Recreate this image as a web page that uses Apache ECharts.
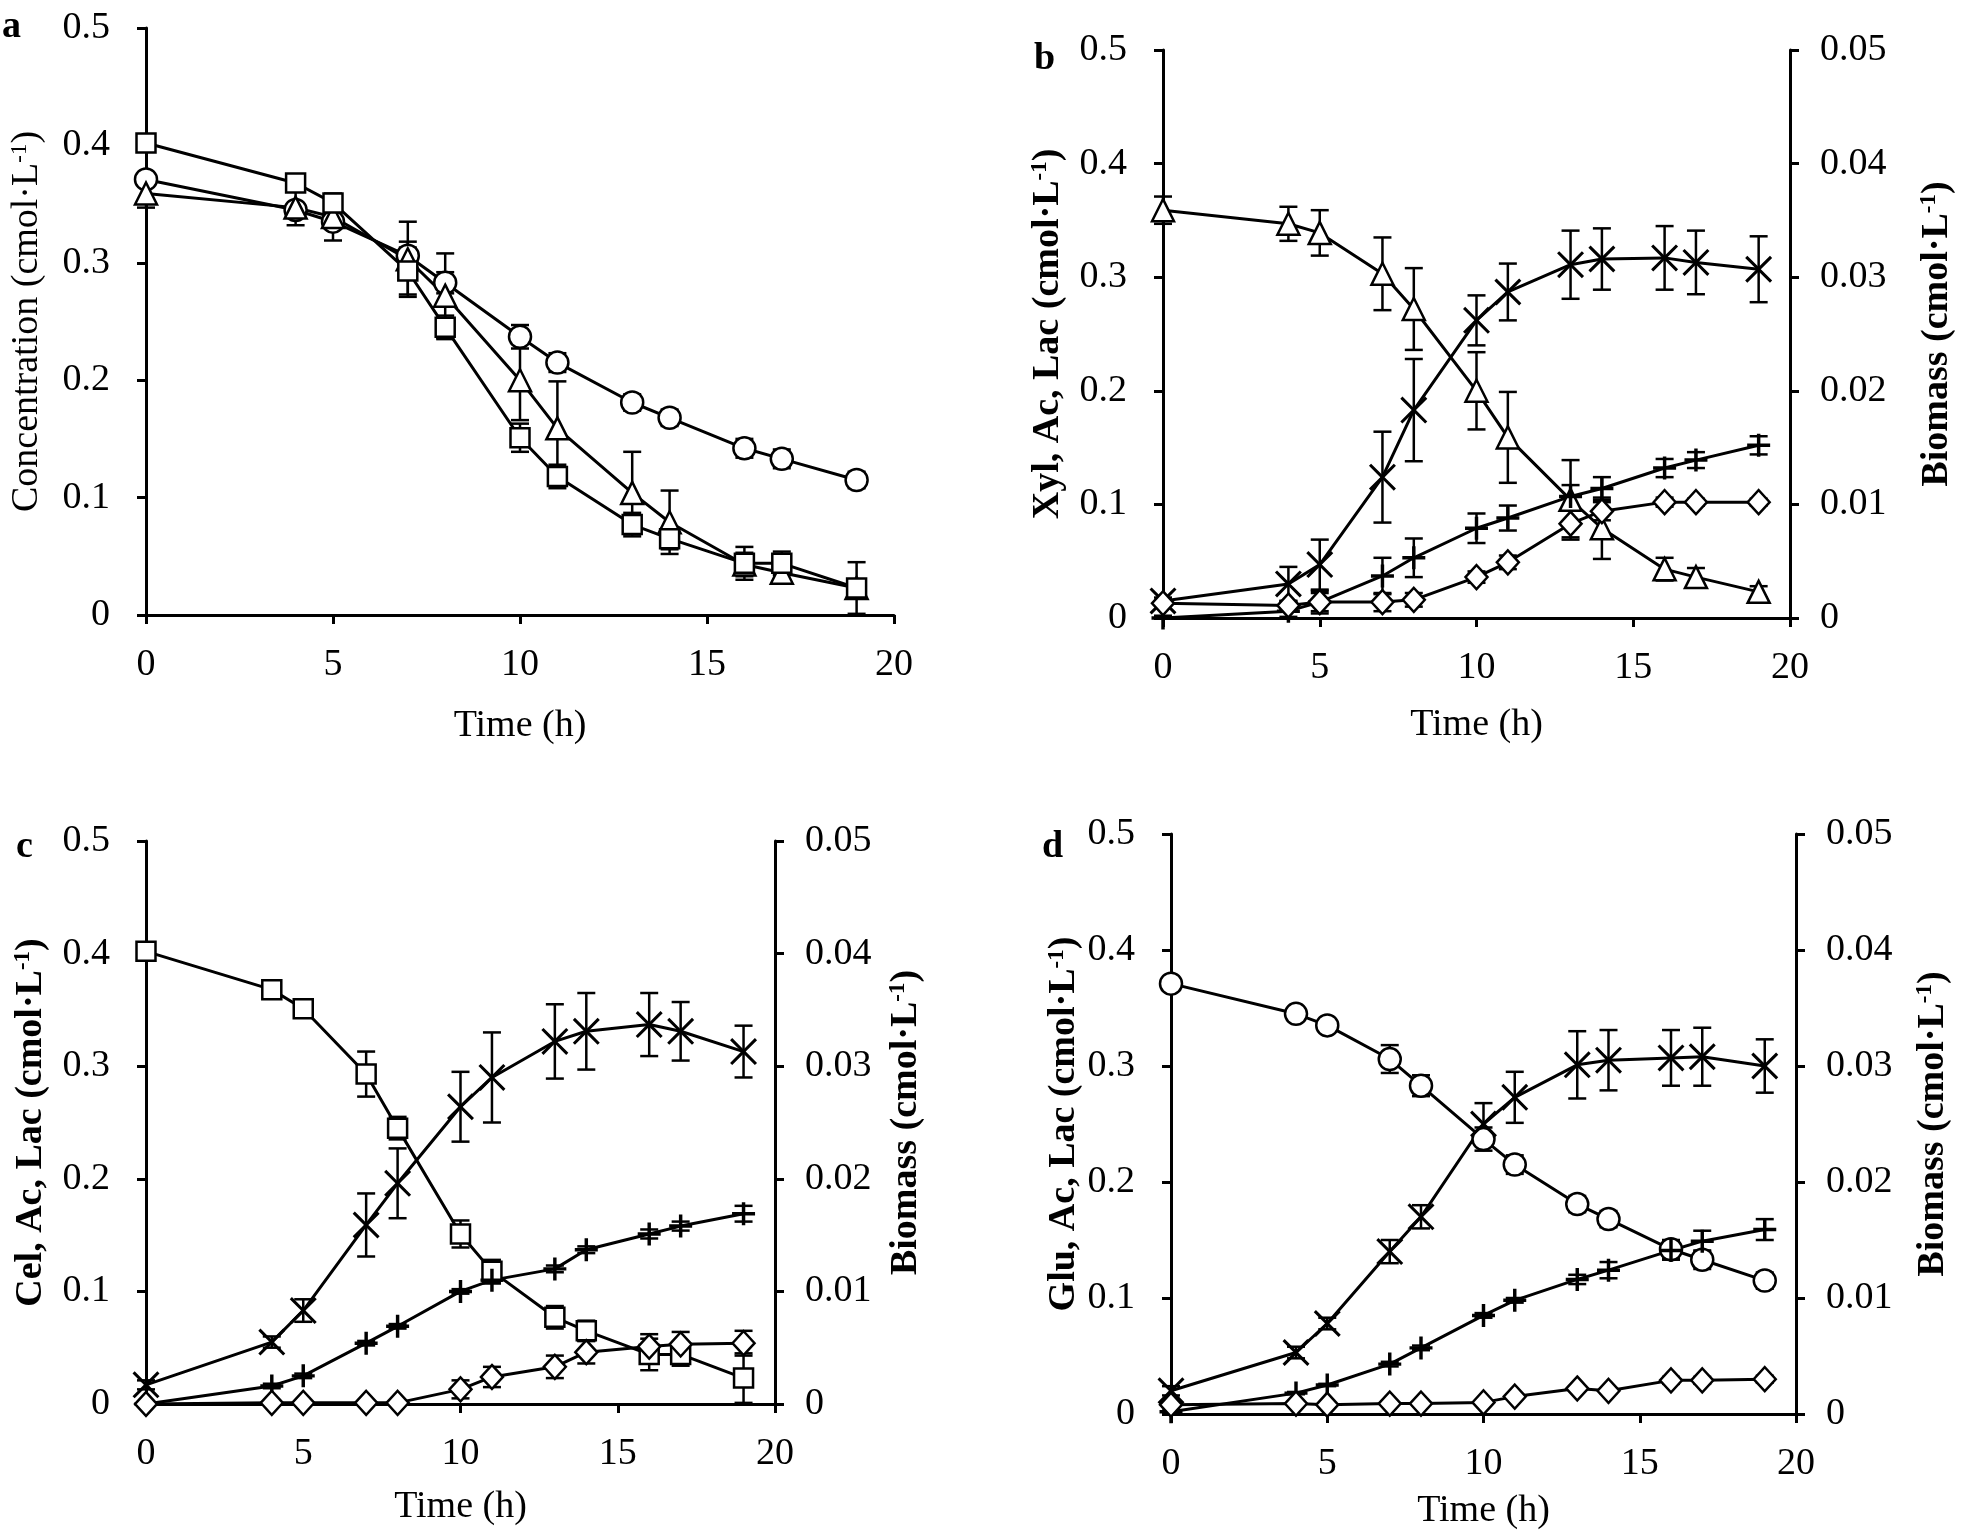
<!DOCTYPE html>
<html>
<head>
<meta charset="utf-8">
<script src="https://cdn.jsdelivr.net/npm/echarts@6/dist/echarts.min.js"></script>
<style>
  html, body { margin: 0; padding: 0; background: #fff; }
  #chart { width: 1961px; height: 1532px; }
</style>
</head>
<body>
<div id="chart"></div>
<script>
// sampling times (h)
var time = [0, 4, 5, 7, 8, 10, 11, 13, 14, 16, 17, 19];

// substrates, cmol/L (used in panel a and in b/c/d)
var xyl    = [0.359, 0.347, 0.339, 0.303, 0.272, 0.200, 0.159, 0.104, 0.079, 0.043, 0.036, 0.023];
var xylErr = [0.012, 0.015, 0.020, 0.032, 0.036, 0.034, 0.040, 0.035, 0.027, 0.010, 0.008, 0.005];
var cel    = [0.402, 0.368, 0.351, 0.293, 0.245, 0.151, 0.118, 0.077, 0.065, 0.044, 0.044, 0.023];
var celErr = [0.004, 0.004, 0.004, 0.020, 0.010, 0.012, 0.010, 0.010, 0.009, 0.014, 0.010, 0.022];
var glu    = [0.371, 0.345, 0.335, 0.306, 0.283, 0.237, 0.215, 0.181, 0.168, 0.142, 0.133, 0.115];
var gluErr = [0.003, 0.004, 0.005, 0.012, 0.009, 0.010, 0.008, 0.007, 0.007, 0.008, 0.008, 0.007];

// panel b (xylose)
var bioB    = [0.0015, 0.0030, 0.0047, 0.0124, 0.0183, 0.0262, 0.0287, 0.0311, 0.0316, 0.0317, 0.0313, 0.0307];
var bioBErr = [0.0003, 0.0015, 0.0022, 0.0040, 0.0045, 0.0022, 0.0025, 0.0030, 0.0027, 0.0028, 0.0028, 0.0029];
var acB     = [0.000, 0.006, 0.014, 0.037, 0.053, 0.079, 0.088, 0.107, 0.114, 0.132, 0.139, 0.152];
var acBErr  = [0.002, 0.005, 0.008, 0.016, 0.017, 0.013, 0.011, 0.010, 0.010, 0.008, 0.007, 0.008];
var lacB    = [0.013, 0.011, 0.014, 0.014, 0.016, 0.036, 0.049, 0.083, 0.094, 0.102, 0.102, 0.102];
var lacBErr = [0.002, 0.004, 0.010, 0.008, 0.006, 0.005, 0.006, 0.012, 0.008, 0.004, 0.003, 0.003];

// panel c (cellobiose)
var bioC    = [0.0017, 0.0055, 0.0083, 0.0159, 0.0196, 0.0264, 0.0290, 0.0322, 0.0331, 0.0337, 0.0331, 0.0313];
var bioCErr = [0.0004, 0.0005, 0.0010, 0.0028, 0.0031, 0.0031, 0.0040, 0.0033, 0.0034, 0.0028, 0.0026, 0.0023];
var acC     = [0.000, 0.016, 0.025, 0.054, 0.069, 0.100, 0.110, 0.120, 0.137, 0.151, 0.158, 0.169];
var acCErr  = [0.001, 0.002, 0.002, 0.002, 0.002, 0.002, 0.003, 0.003, 0.003, 0.004, 0.004, 0.007];
var lacC    = [0.000, 0.001, 0.001, 0.001, 0.001, 0.013, 0.024, 0.033, 0.046, 0.051, 0.053, 0.054];
var lacCErr = [0.001, 0.001, 0.001, 0.001, 0.001, 0.008, 0.009, 0.010, 0.010, 0.011, 0.011, 0.011];

// panel d (glucose)
var bioD    = [0.0020, 0.0053, 0.0078, 0.0140, 0.0170, 0.0250, 0.0273, 0.0301, 0.0305, 0.0307, 0.0308, 0.0300];
var bioDErr = [0.0004, 0.0005, 0.0005, 0.0010, 0.0010, 0.0018, 0.0022, 0.0029, 0.0026, 0.0024, 0.0025, 0.0023];
var acD     = [0.002, 0.018, 0.025, 0.043, 0.057, 0.085, 0.098, 0.116, 0.124, 0.141, 0.149, 0.159];
var acDErr  = [0.001, 0.001, 0.001, 0.002, 0.002, 0.002, 0.002, 0.004, 0.007, 0.008, 0.009, 0.009];
var lacD    = [0.008, 0.009, 0.008, 0.009, 0.009, 0.010, 0.015, 0.022, 0.020, 0.029, 0.029, 0.030];
var lacDErr = [0.001, 0.001, 0.001, 0.001, 0.001, 0.001, 0.002, 0.002, 0.002, 0.003, 0.003, 0.003];

var FONT = 'Liberation Serif';
var FS = 38;
var PLUS = 'path://M8.5,0H11.5V8.5H20V11.5H11.5V20H8.5V11.5H0V8.5H8.5Z';
var CROSS = 'path://M0,1.6L1.6,0L10,8.4L18.4,0L20,1.6L11.6,10L20,18.4L18.4,20L10,11.6L1.6,20L0,18.4L8.4,10Z';

function pts(ys, errs) {
  return time.map(function (t, i) { return [t, ys[i], errs[i]]; });
}

function lineSeries(ax, data, symbol, size, filled) {
  return {
    type: 'line', xAxisIndex: ax[0], yAxisIndex: ax[1],
    data: data, encode: { x: 0, y: 1 },
    symbol: symbol, symbolSize: size, showAllSymbol: true,
    itemStyle: filled
      ? { color: '#000', borderWidth: 0 }
      : { color: '#fff', borderColor: '#000', borderWidth: 2.5 },
    lineStyle: { color: '#000', width: 3 },
    emphasis: { disabled: true },
    clip: false, z: 3, animation: false
  };
}

// vertical error bars with caps, drawn through the axis scales
function errSeries(ax, data) {
  return {
    type: 'custom', xAxisIndex: ax[0], yAxisIndex: ax[1],
    data: data, encode: { x: 0, y: 1 }, silent: true, z: 2, animation: false,
    renderItem: function (params, api) {
      var x = api.value(0), y = api.value(1), e = api.value(2);
      var lo = Math.max(y - e, 0);
      var top = api.coord([x, y + e]);
      var bot = api.coord([x, lo]);
      var w = 9;
      var st = { stroke: '#000', lineWidth: 2.5 };
      var kids = [
        { type: 'line', shape: { x1: top[0], y1: top[1], x2: bot[0], y2: bot[1] }, style: st },
        { type: 'line', shape: { x1: top[0] - w, y1: top[1], x2: top[0] + w, y2: top[1] }, style: st }
      ];
      if (y - e > 0) {
        kids.push({ type: 'line', shape: { x1: bot[0] - w, y1: bot[1], x2: bot[0] + w, y2: bot[1] }, style: st });
      }
      return { type: 'group', children: kids };
    }
  };
}

var axLine = { lineStyle: { color: '#000', width: 3 } };
var axTick = { inside: false, length: 9, lineStyle: { color: '#000', width: 3 } };
var axLabel = { color: '#000', fontFamily: FONT, fontSize: FS };
var supRich = function (bold) {
  return { sup: { fontSize: 23, verticalAlign: 'top', fontFamily: FONT, fontWeight: bold ? 'bold' : 'normal', color: '#000' } };
};

function xAx(g, gap) {
  return {
    gridIndex: g, type: 'value', min: 0, max: 20, interval: 5,
    name: 'Time (h)', nameLocation: 'middle', nameGap: gap,
    nameTextStyle: { color: '#000', fontFamily: FONT, fontSize: FS },
    axisLine: axLine, axisTick: axTick,
    axisLabel: Object.assign({ margin: 31 }, axLabel),
    splitLine: { show: false }
  };
}

function yAx(g, name, gap, bold) {
  return {
    gridIndex: g, type: 'value', min: 0, max: 0.5, interval: 0.1, position: 'left',
    name: name, nameLocation: 'middle', nameGap: gap, nameRotate: 90,
    nameTextStyle: { color: '#000', fontFamily: FONT, fontSize: FS, fontWeight: bold ? 'bold' : 'normal', rich: supRich(bold) },
    axisLine: { show: true, lineStyle: { color: '#000', width: 3 } }, axisTick: Object.assign({ show: true }, axTick),
    axisLabel: Object.assign({ margin: 36 }, axLabel),
    splitLine: { show: false }
  };
}

function yAxR(g, gap) {
  return {
    gridIndex: g, type: 'value', min: 0, max: 0.05, interval: 0.01, position: 'right',
    name: 'Biomass (cmol·L{sup|-1})', nameLocation: 'middle', nameGap: gap, nameRotate: 90,
    nameTextStyle: { color: '#000', fontFamily: FONT, fontSize: FS, fontWeight: 'bold', rich: supRich(true) },
    axisLine: { show: true, lineStyle: { color: '#000', width: 3 } }, axisTick: Object.assign({ show: true }, axTick),
    axisLabel: Object.assign({ margin: 30 }, axLabel),
    splitLine: { show: false }
  };
}

function panelTitle(t, left, top) {
  return { text: t, left: left, top: top, padding: 0,
    textStyle: { fontFamily: FONT, fontSize: FS, fontWeight: 'bold', color: '#000' } };
}

var option = {
  backgroundColor: '#fff',
  animation: false,
  title: [
    panelTitle('a', 2, 8),
    panelTitle('b', 1034, 40),
    panelTitle('c', 16, 828),
    panelTitle('d', 1042, 828)
  ],
  grid: [
    { left: 146, top: 28, width: 748, height: 587 },
    { left: 1163, top: 50, width: 627, height: 568 },
    { left: 146, top: 841, width: 629, height: 563 },
    { left: 1171, top: 834, width: 625, height: 580 }
  ],
  xAxis: [xAx(0, 92), xAx(1, 88), xAx(2, 84), xAx(3, 78)],
  yAxis: [
    yAx(0, 'Concentration (cmol·L{sup|-1})', 100, false),
    yAx(1, 'Xyl, Ac, Lac (cmol·L{sup|-1})', 96, true),
    yAxR(1, 128),
    yAx(2, 'Cel, Ac, Lac (cmol·L{sup|-1})', 96, true),
    yAxR(2, 112),
    yAx(3, 'Glu, Ac, Lac (cmol·L{sup|-1})', 84, true),
    yAxR(3, 118)
  ],
  series: [
    // a
    errSeries([0, 0], pts(glu, gluErr)),
    errSeries([0, 0], pts(xyl, xylErr)),
    errSeries([0, 0], pts(cel, celErr)),
    lineSeries([0, 0], pts(glu, gluErr), 'circle', 22, false),
    lineSeries([0, 0], pts(xyl, xylErr), 'triangle', 22, false),
    lineSeries([0, 0], pts(cel, celErr), 'rect', 19, false),
    // b
    errSeries([1, 1], pts(xyl, xylErr)),
    errSeries([1, 2], pts(bioB, bioBErr)),
    errSeries([1, 1], pts(acB, acBErr)),
    errSeries([1, 1], pts(lacB, lacBErr)),
    lineSeries([1, 1], pts(xyl, xylErr), 'triangle', 22, false),
    lineSeries([1, 2], pts(bioB, bioBErr), CROSS, 27, true),
    lineSeries([1, 1], pts(acB, acBErr), PLUS, 23, true),
    lineSeries([1, 1], pts(lacB, lacBErr), 'diamond', [22, 24], false),
    // c
    errSeries([2, 3], pts(cel, celErr)),
    errSeries([2, 4], pts(bioC, bioCErr)),
    errSeries([2, 3], pts(acC, acCErr)),
    errSeries([2, 3], pts(lacC, lacCErr)),
    lineSeries([2, 3], pts(cel, celErr), 'rect', 19, false),
    lineSeries([2, 4], pts(bioC, bioCErr), CROSS, 27, true),
    lineSeries([2, 3], pts(acC, acCErr), PLUS, 23, true),
    lineSeries([2, 3], pts(lacC, lacCErr), 'diamond', [22, 24], false),
    // d
    errSeries([3, 5], pts(glu, gluErr)),
    errSeries([3, 6], pts(bioD, bioDErr)),
    errSeries([3, 5], pts(acD, acDErr)),
    errSeries([3, 5], pts(lacD, lacDErr)),
    lineSeries([3, 5], pts(glu, gluErr), 'circle', 22, false),
    lineSeries([3, 6], pts(bioD, bioDErr), CROSS, 27, true),
    lineSeries([3, 5], pts(acD, acDErr), PLUS, 23, true),
    lineSeries([3, 5], pts(lacD, lacDErr), 'diamond', [22, 24], false)
  ]
};

var chart = echarts.init(document.getElementById('chart'));
chart.setOption(option);
</script>
</body>
</html>
